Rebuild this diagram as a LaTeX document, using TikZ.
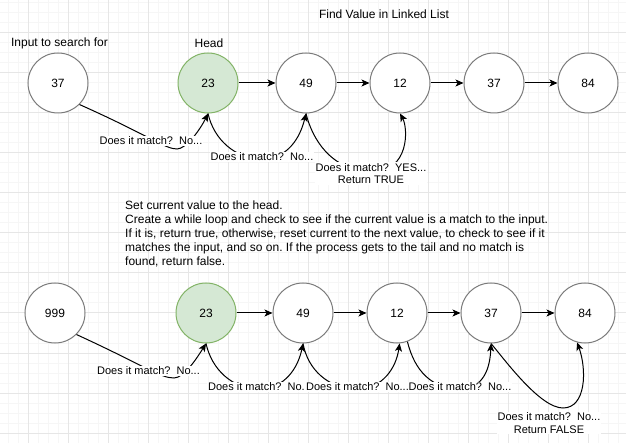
\documentclass[tikz,border=0pt]{standalone}
\usepackage{fontspec}
\setmainfont{Liberation Sans}
\usetikzlibrary{arrows.meta}
\definecolor{headfill}{HTML}{D5E8D4}
\definecolor{headdraw}{HTML}{82B366}
\definecolor{ring}{HTML}{7A7A7A}
\definecolor{gridmajor}{HTML}{E6E6E6}
\definecolor{gridminor}{HTML}{F6F6F6}
\frenchspacing
\begin{document}
\begin{tikzpicture}[x=1pt,y=-1pt,
  nodecircle/.style={circle, draw=ring, fill=white, line width=1pt, minimum size=60pt, inner sep=0pt, font=\fontsize{12}{14}\selectfont},
  headcircle/.style={nodecircle, draw=headdraw, fill=headfill},
  link/.style={-{Stealth[length=8pt,width=7pt,inset=2pt]}, line width=1pt, black},
  edgelabel/.style={fill=white, inner sep=1pt, font=\fontsize{11}{12.7}\selectfont, align=center},
  plaintext/.style={font=\fontsize{12}{14}\selectfont, inner sep=0pt},
  minorline/.style={gridminor, line width=1pt},
  majorline/.style={gridmajor, line width=1pt},
]
\useasboundingbox (0,0) rectangle (626,443);
\fill[white] (0,0) rectangle (626,443);
% grid
\foreach \gx in {8,18,...,618} \draw[minorline] (\gx,0) -- (\gx,443);
\foreach \gy in {3,13,...,443} \draw[minorline] (0,\gy) -- (626,\gy);
\foreach \gx in {28,68,...,588} \draw[majorline] (\gx,0) -- (\gx,443);
\foreach \gy in {33,73,...,433} \draw[majorline] (0,\gy) -- (626,\gy);

% texts
\node[plaintext] (title) at (384,14) {Find Value in Linked List};
\node[plaintext] (inputlbl) at (59.5,43) {Input to search for};
\node[plaintext] (headlbl) at (209,43) {Head};
\node[plaintext, anchor=north west, align=left] (desc) at (125,201) {Set current value to the head.\\
Create a while loop and check to see if the current value is a match to the input.\\
If it is, return true, otherwise, reset current to the next value, to check to see if it\\
matches the input, and so on. If the process gets to the tail and no match is\\
found, return false.};

% top row
\node[nodecircle] (in37) at (58,83) {37};
\node[headcircle] (h23) at (208,83) {23};
\node[nodecircle] (t49) at (306,83) {49};
\node[nodecircle] (t12) at (400,83) {12};
\node[nodecircle] (t37) at (494,83) {37};
\node[nodecircle] (t84) at (588,83) {84};

% bottom row
\node[nodecircle] (b999) at (55,313) {999};
\node[headcircle] (bh23) at (206,313) {23};
\node[nodecircle] (b49) at (303,313) {49};
\node[nodecircle] (b12) at (397,313) {12};
\node[nodecircle] (b37) at (491,313) {37};
\node[nodecircle] (b84) at (585,313) {84};

% straight links
\draw[link] (h23.east) -- (t49.west);
\draw[link] (t49.east) -- (t12.west);
\draw[link] (t12.east) -- (t37.west);
\draw[link] (t37.east) -- (t84.west);
\draw[link] (bh23.east) -- (b49.west);
\draw[link] (b49.east) -- (b12.west);
\draw[link] (b12.east) -- (b37.west);
\draw[link] (b37.east) -- (b84.west);

% curved checks, top
\draw[link] (in37.south east) .. controls (150,136) and (165,149) .. (177,149) .. controls (186,149) and (200,130) .. (h23.south);
\draw[link] (h23.south) .. controls (214,140) and (235,158) .. (262,160) .. controls (288,158) and (300,138) .. (t49.south);
\draw[link] (t49.south) .. controls (312,138) and (330,170) .. (371,172) .. controls (410,172) and (408,128) .. (t12.south);

% curved checks, bottom
\draw[link] (b999.south east) .. controls (145,366) and (160,378) .. (174,378) .. controls (184,378) and (197,358) .. (bh23.south);
\draw[link] (bh23.south) .. controls (212,370) and (232,388) .. (259,390) .. controls (285,388) and (298,368) .. (b49.south);
\draw[link] (b49.south) .. controls (308,370) and (328,388) .. (357,390) .. controls (383,388) and (396,368) .. (b12.-85);
\draw[link] (b12.-70) .. controls (415,372) and (432,388) .. (460,390) .. controls (484,388) and (490,368) .. (b37.south);
\draw[link] (b37.south) .. controls (505,360) and (540,408) .. (563,408) .. controls (586,408) and (587,370) .. (b84.-105);

% labels
\node[edgelabel] (lt1) at (151,141) {Does it match?\ \ No...};
\node[edgelabel] (lt2) at (262,157) {Does it match?\ \ No...};
\node[edgelabel] (lt3) at (371,173.5) {Does it match?\ \ YES...\\Return TRUE};
\node[edgelabel] (lb1) at (148.5,371) {Does it match?\ \ No...};
\node[edgelabel] (lb2) at (259.5,387) {Does it match?\ \ No...};
\node[edgelabel] (lb3) at (357.5,387) {Does it match?\ \ No...};
\node[edgelabel] (lb4) at (460,387) {Does it match?\ \ No...};
\node[edgelabel] (lb5) at (549,423) {Does it match?\ \ No...\\Return FALSE};
\end{tikzpicture}
\end{document}
